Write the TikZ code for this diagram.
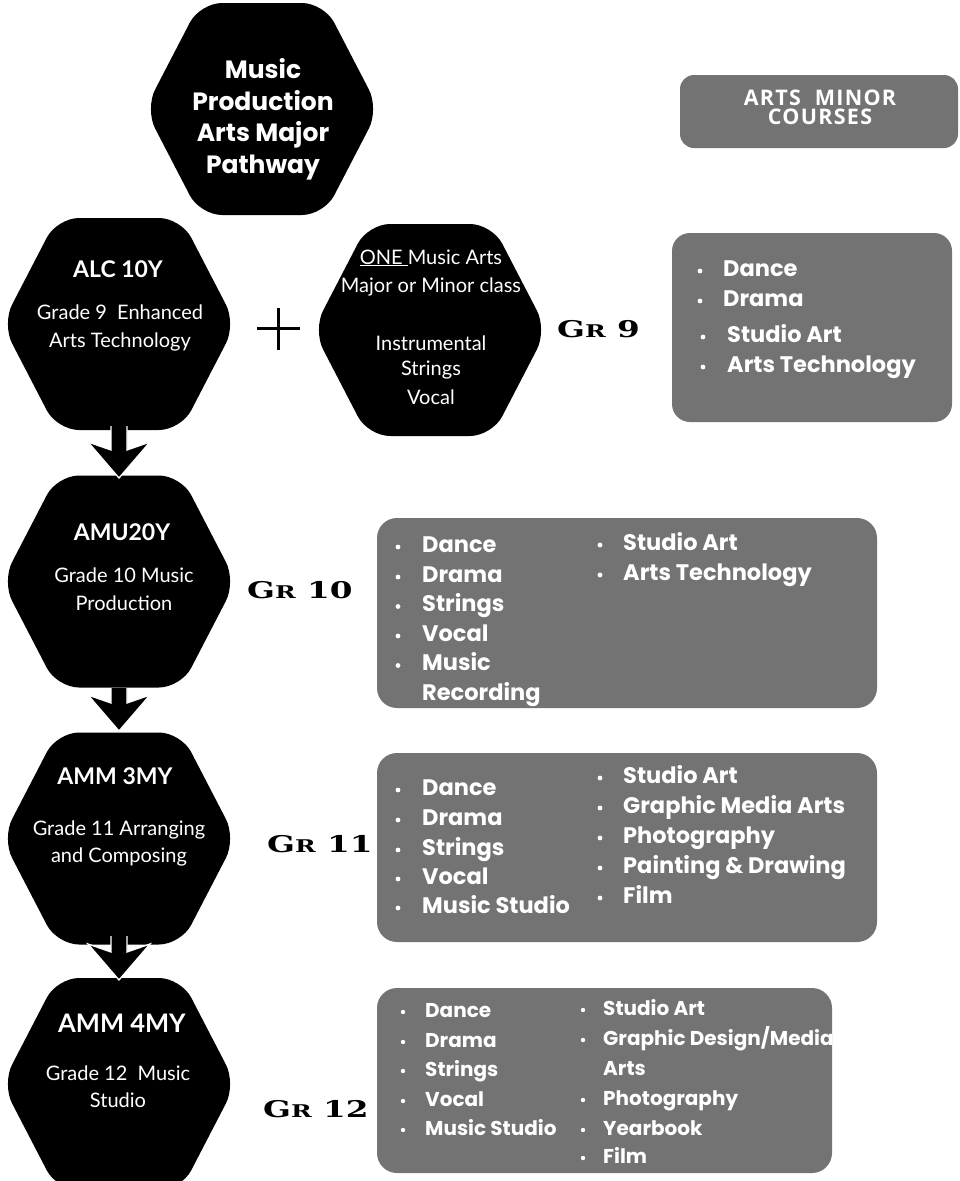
\documentclass[tikz,border=0pt]{standalone}
\usepackage{fontspec}
\usepackage{graphicx}
\usetikzlibrary{calc}
\newfontfamily\lato{Lato}
\newfontfamily\pop{Poppins}
\newfontfamily\osans{Open Sans}[LetterSpace=6]
\newfontfamily\dserif{DejaVu Serif}
\definecolor{boxgray}{RGB}{115,115,115}
\newcommand\grlab[1]{\scalebox{1.42}[1]{\dserif\bfseries\fontsize{23}{23}\selectfont G\fontsize{17.5}{17.5}\selectfont R\fontsize{23}{23}\selectfont\ #1}}
\newcommand\blockarrow[2]{%
  \fill[arrowfill] let \p1=(#1), \p2=(#2) in
    (\x1-8pt,\y1) -- (\x1-8pt,\y2+28pt) -- (\x1-31pt,\y2+36pt) -- (\x2,\y2)
    -- (\x1+31pt,\y2+36pt) -- (\x1+8pt,\y2+28pt) -- (\x1+8pt,\y1) -- cycle;
  \draw[arrowedge] let \p1=(#1), \p2=(#2) in
    (\x1-8pt,\y1) -- (\x1-8pt,\y2+28pt) -- (\x1-31pt,\y2+36pt) -- (\x2,\y2)
    -- (\x1+31pt,\y2+36pt) -- (\x1+8pt,\y2+28pt) -- (\x1+8pt,\y1);}
\begin{document}
\begin{tikzpicture}[x=1pt,y=-1pt,
  hexfill/.style={fill=black, rounded corners=22pt},
  hexhead/.style={text=white, anchor=base, inner sep=0, font=\lato\bfseries\fontsize{23}{23}\selectfont},
  hexsub/.style={text=white, anchor=base, inner sep=0, font=\lato\fontsize{20}{20}\selectfont},
  titletext/.style={text=white, anchor=base, inner sep=0, font=\pop\bfseries\fontsize{25}{25}\selectfont},
  graybox/.style={fill=boxgray, rounded corners=20pt},
  item/.style={text=white, anchor=base west, inner sep=0, font=\pop\bfseries\fontsize{22.5}{22.5}\selectfont},
  smallitem/.style={item, font=\pop\bfseries\fontsize{20}{20}\selectfont},
  minortext/.style={text=white, anchor=base, inner sep=0, text height=15.5pt, text depth=0pt,
    font=\osans\bfseries\fontsize{21.5}{21.5}\selectfont},
  grlabel/.style={anchor=base west, inner sep=0, text=black},
  arrowfill/.style={fill=black},
  arrowedge/.style={draw=white, line width=1.3pt},
]
\useasboundingbox (0,0) rectangle (959,1181);
\fill[white] (0,0) rectangle (959,1181);

% hexagon centres
\coordinate (hT) at (262,109);
\coordinate (hALC) at (119,324);
\coordinate (hONE) at (430,330);
\coordinate (hAMU) at (119,581.5);
\coordinate (hAMMa) at (119,838.5);
\coordinate (hAMMb) at (119,1084);
\foreach \c in {hT,hALC,hONE,hAMU,hAMMa,hAMMb}
  \fill[hexfill] ([shift={(-117,0)}]\c) -- ([shift={(-62,-106)}]\c) -- ([shift={(62,-106)}]\c)
     -- ([shift={(117,0)}]\c) -- ([shift={(62,106)}]\c) -- ([shift={(-62,106)}]\c) -- cycle;

% arrows
\coordinate (a1s) at (119,426); \coordinate (a1t) at (119,478);
\coordinate (a2s) at (119,688); \coordinate (a2t) at (119,731);
\coordinate (a3s) at (119,936); \coordinate (a3t) at (119,980);
\blockarrow{a1s}{a1t}
\blockarrow{a2s}{a2t}
\blockarrow{a3s}{a3t}

% plus sign
\draw[line width=3pt] (257,328) -- (300,328) (278.5,308) -- (278.5,350);

% title
\node[titletext] (t1) at (263,78) {Music};
\node[titletext] (t2) at (263,110) {Production};
\node[titletext] (t3) at (263,141) {Arts Major};
\node[titletext] (t4) at (263,173) {Pathway};

% ALC
\node[hexhead] (alc) at (118,277) {ALC 10Y};
\node[hexsub] (alc1) at (120,319) {Grade 9\ \ Enhanced};
\node[hexsub] (alc2) at (120,347) {Arts Technology};

% ONE
\node[hexsub] (one1) at (431,264) {\underline{ONE\ }Music Arts};
\node[hexsub] (one2) at (431,292) {Major or Minor class};
\node[hexsub] (one3) at (431,350) {Instrumental};
\node[hexsub] (one4) at (431,375) {Strings};
\node[hexsub] (one5) at (431,404) {Vocal};

% AMU
\node[hexhead] (amu) at (122,540) {AMU20Y};
\node[hexsub] (amu1) at (124,582) {Grade 10 Music};
\node[hexsub] (amu2) at (124,610) {Production};

% AMM 3MY
\node[hexhead] (amma) at (115,784) {AMM 3MY};
\node[hexsub] (amma1) at (119,835) {Grade 11 Arranging};
\node[hexsub] (amma2) at (119,862) {and Composing};

% AMM 4MY
\node[hexhead, font=\lato\bfseries\fontsize{25.5}{25.5}\selectfont] (ammb) at (122,1032) {AMM 4MY};
\node[hexsub] (ammb1) at (118,1080) {Grade 12\ \ Music};
\node[hexsub] (ammb2) at (118,1107) {Studio};

% Gr labels
\node[grlabel] (gr9) at (557,337) {\grlab{9}};
\node[grlabel] (gr10) at (247,598) {\grlab{10}};
\node[grlabel] (gr11) at (267,852) {\grlab{11}};
\node[grlabel] (gr12) at (263,1117) {\grlab{12}};

% minor header
\fill[graybox, rounded corners=14pt] (680,75) rectangle (958,148);
\node[minortext] (mh1) at (820,105) {ARTS\ \ MINOR};
\node[minortext] (mh2) at (820,124) {COURSES};

% Gr9 box
\fill[graybox, rounded corners=18pt] (672,233) rectangle (952,422);
\foreach \xb/\xt/\y/\t [count=\i] in {700/723/276/Dance, 700/723/306/Drama, 703/727/342/Studio Art, 703/727/372/Arts Technology} {
  \fill[white] (\xb,\y-5) circle (2.4pt);
  \node[item, name=g9-\i] at (\xt,\y) {\t};
}

% Gr10 box
\fill[graybox] (377,518) rectangle (877,708);
\foreach \y/\t [count=\i] in {552/Dance, 582/Drama, 611.5/Strings, 641/Vocal, 670.5/Music} {
  \fill[white] (398,\y-5) circle (2.4pt);
  \node[item, name=g10a-\i] at (422,\y) {\t};
}
\node[item] (g10a-6) at (422,700) {Recording};
\foreach \y/\t [count=\i] in {550/Studio Art, 580/Arts Technology} {
  \fill[white] (600,\y-5) circle (2.4pt);
  \node[item, name=g10b-\i] at (623,\y) {\t};
}

% Gr11 box
\fill[graybox] (377,753) rectangle (877,942);
\foreach \y/\t [count=\i] in {795/Dance, 825/Drama, 855/Strings, 884/Vocal, 913/Music Studio} {
  \fill[white] (398,\y-5) circle (2.4pt);
  \node[item, name=g11a-\i] at (422,\y) {\t};
}
\foreach \y/\t [count=\i] in {783/Studio Art, 813/Graphic Media Arts, 843/Photography, 873/Painting \& Drawing, 903/Film} {
  \fill[white] (600,\y-5) circle (2.4pt);
  \node[item, name=g11b-\i] at (623,\y) {\t};
}

% Gr12 box
\fill[graybox] (377,988) rectangle (832,1173);
\foreach \y/\t [count=\i] in {1017/Dance, 1047/Drama, 1076/Strings, 1106/Vocal, 1135/Music Studio} {
  \fill[white] (403,\y-5) circle (2.2pt);
  \node[smallitem, name=g12a-\i] at (425,\y) {\t};
}
\foreach \y/\t [count=\i] in {1015/Studio Art, 1045/{Graphic Design/Media}, 1105/Photography, 1135/Yearbook, 1163/Film} {
  \fill[white] (583,\y-5) circle (2.2pt);
  \node[smallitem, name=g12b-\i] at (603,\y) {\t};
}
\node[smallitem] (g12b-arts) at (603,1075) {Arts};
\end{tikzpicture}
\end{document}
